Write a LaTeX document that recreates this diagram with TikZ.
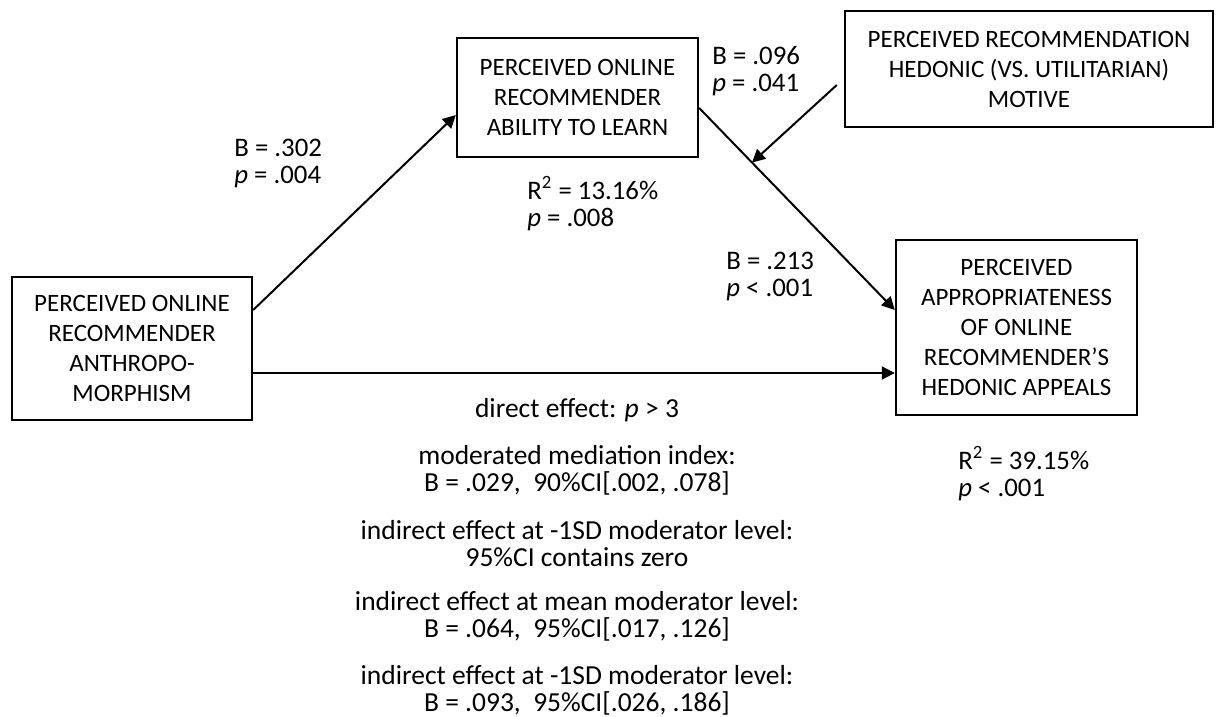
\documentclass[tikz,border=0pt]{standalone}
\usepackage{fontspec}
\setmainfont{Carlito}
\usetikzlibrary{arrows.meta}

\begin{document}
\begin{tikzpicture}[x=0.5pt,y=-0.5pt]
	\tikzset{
		varbox/.style={draw,line width=1.2pt,align=center,inner sep=0pt,font=\fontsize{12.5}{15}\selectfont},
		stat/.style={align=left,anchor=west,inner sep=0pt,font=\fontsize{13.4}{13.5}\selectfont},
		note/.style={align=center,inner sep=0pt,font=\fontsize{13.75}{13.5}\selectfont},
		arr/.style={line width=1pt,-{Triangle[length=6.5pt,width=6.5pt]}}}
	\useasboundingbox (0,0) rectangle (1217,717);
	% variables
	\node[varbox,minimum width=120pt,minimum height=71.5pt] (anth) at (132,348.5) {PERCEIVED ONLINE\\RECOMMENDER\\ANTHROPO-\\MORPHISM};
	\node[varbox,minimum width=120.5pt,minimum height=59.5pt] (learn) at (577.5,97.5) {PERCEIVED ONLINE\\RECOMMENDER\\ABILITY TO LEARN};
	\node[varbox,minimum width=184pt,minimum height=58pt] (motive) at (1029,69) {PERCEIVED RECOMMENDATION\\HEDONIC (VS. UTILITARIAN)\\MOTIVE};
	\node[varbox,minimum width=120.5pt,minimum height=87.5pt] (appeal) at (1016.5,327.5) {PERCEIVED\\APPROPRIATENESS\\OF ONLINE\\RECOMMENDER’S\\HEDONIC APPEALS};
	% paths
	\draw[arr] ([yshift=19.25pt]anth.east) -- ([yshift=-8.75pt]learn.west);
	\draw[arr] ([yshift=-5.25pt]learn.east) -- ([yshift=8.75pt]appeal.west) coordinate[pos=.27] (mod);
	\draw[arr] ([xshift=-3.5pt,yshift=-8pt]motive.west) -- (mod);
	\coordinate (dstart) at ([yshift=-12.25pt]anth.east);
	\draw[arr] (dstart) -- (dstart -| appeal.west);
	% coefficients
	\node[stat] (b1) at (234,163.5) {B = .302\\\textit{p} = .004};
	\node[stat] (r1) at (527,203.5) {R\textsuperscript{2} = 13.16\%\\\textit{p} = .008};
	\node[stat] (b2) at (712,71.5) {B = .096\\\textit{p} = .041};
	\node[stat] (b3) at (726,276.5) {B = .213\\\textit{p} < .001};
	\node[stat] (r2) at (958,473.5) {R\textsuperscript{2} = 39.15\%\\\textit{p} < .001};
	% effects
	\node[note] (direct) at (577,410) {direct effect: \textit{p} > 3};
	\node[note] (modidx) at (577,470.5) {moderated mediation index:\\B = .029, \ 90\%CI[.002, .078]};
	\node[note] (low) at (577,543.5) {indirect effect at -1SD moderator level:\\95\%CI contains zero};
	\node[note] (mean) at (577,616.5) {indirect effect at mean moderator level:\\B = .064, \ 95\%CI[.017, .126]};
	\node[note] (high) at (577,690) {indirect effect at -1SD moderator level:\\B = .093, \ 95\%CI[.026, .186]};
\end{tikzpicture}
\end{document}
